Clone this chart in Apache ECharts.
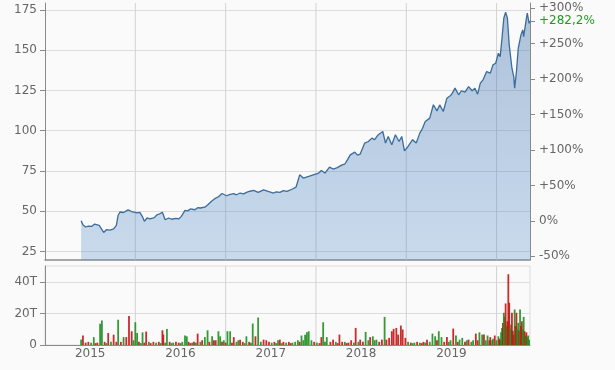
<!DOCTYPE html>
<html><head><meta charset="utf-8">
<script src="https://cdn.jsdelivr.net/npm/echarts@6/dist/echarts.min.js"></script>
<style>html,body{margin:0;padding:0;background:#fafafa}#c{width:615px;height:370px}</style>
</head><body><div id="c"></div>
<script>
const priceYears = [2015.40,2015.42,2015.45,2015.48,2015.52,2015.55,2015.57,2015.60,2015.62,2015.65,2015.68,2015.72,2015.76,2015.79,2015.81,2015.83,2015.85,2015.87,2015.89,2015.92,2015.94,2015.96,2015.98,
2016.02,2016.05,2016.08,2016.10,2016.13,2016.16,2016.18,2016.21,2016.24,2016.27,2016.30,2016.33,2016.37,2016.40,2016.42,2016.45,2016.48,2016.51,2016.55,2016.58,2016.61,2016.66,2016.69,2016.72,2016.77,2016.80,2016.82,2016.85,2016.88,2016.92,2016.96,
2017.01,2017.05,2017.09,2017.12,2017.16,2017.20,2017.23,2017.27,2017.31,2017.36,2017.42,2017.47,2017.53,2017.56,2017.60,2017.64,2017.68,2017.74,2017.78,2017.81,2017.82,2017.86,2017.92,2017.97,
2018.03,2018.06,2018.10,2018.15,2018.19,2018.23,2018.29,2018.32,2018.35,2018.38,2018.43,2018.46,2018.49,2018.54,2018.58,2018.62,2018.65,2018.69,2018.74,2018.77,2018.80,2018.84,2018.88,2018.92,2018.95,2018.98,
2019.02,2019.07,2019.11,2019.15,2019.18,2019.21,2019.26,2019.30,2019.34,2019.37,2019.41,2019.45,2019.49,2019.51,2019.54,2019.58,2019.61,2019.65,2019.69,2019.73,2019.76,2019.79,2019.82,2019.85,2019.89,2019.93,2019.96,2019.99,
2020.02,2020.04,2020.06,2020.08,2020.10,2020.12,2020.14,2020.17,2020.19,2020.20,2020.22,2020.24,2020.27,2020.29,2020.30,2020.33,2020.34,2020.36,2020.37];
const prices = [44.0,41.6,40.2,40.8,40.6,42.0,42.6,41.2,42.0,36.8,38.5,38.3,39.0,41.2,47.5,49.5,50.5,49.2,49.9,50.8,50.9,49.8,50.5,
48.9,49.3,46.5,43.7,45.8,45.2,46.4,46.0,47.8,48.4,49.3,44.7,45.8,45.0,44.3,45.6,45.2,46.8,50.5,50.2,51.4,50.9,52.2,52.0,52.5,53.8,55.0,56.5,57.8,59.0,61.0,
59.6,60.5,60.9,60.2,61.3,60.8,61.7,62.4,62.9,61.7,63.3,62.3,61.3,62.0,61.7,62.8,62.3,63.8,65.0,70.6,72.6,70.6,71.6,72.6,
73.7,75.3,73.7,77.4,76.2,76.9,78.8,79.3,82.0,85.0,86.7,84.8,85.5,92.3,93.3,95.4,94.4,97.5,99.5,92.3,96.4,91.3,97.5,93.3,96.4,87.5,
90.2,94.4,92.3,98.5,101.5,105.7,107.8,116.1,112.3,116.0,111.9,120.2,121.8,123.3,126.4,122.3,124.8,124.0,127.4,124.8,126.4,122.7,129.5,131.6,136.7,135.7,140.9,141.9,
148.1,146.0,157.4,169.8,173.6,169.8,153.3,138.8,133.6,126.4,136.7,151.2,159.5,162.6,158.4,169.8,173.0,166.7,168.15];

const volYears = [2015.40,2015.42,2015.45,2015.48,2015.51,2015.54,2015.56,2015.58,2015.61,2015.63,2015.66,2015.68,2015.70,2015.73,2015.76,2015.79,2015.81,2015.84,2015.87,2015.90,2015.93,2015.96,2015.98,
2016.00,2016.02,2016.04,2016.06,2016.08,2016.10,2016.12,2016.15,2016.17,2016.20,2016.23,2016.26,2016.28,2016.30,2016.31,2016.33,2016.35,2016.38,2016.40,2016.42,2016.45,2016.48,2016.50,2016.52,2016.55,2016.57,2016.59,2016.61,2016.63,2016.65,2016.67,2016.69,2016.72,2016.74,2016.77,2016.80,2016.82,2016.85,2016.87,2016.89,2016.92,2016.94,2016.96,2016.98,
2017.00,2017.02,2017.05,2017.07,2017.09,2017.12,2017.14,2017.16,2017.19,2017.21,2017.23,2017.26,2017.28,2017.30,2017.33,2017.36,2017.39,2017.42,2017.45,2017.48,2017.51,2017.54,2017.56,2017.58,2017.60,2017.62,2017.64,2017.67,2017.70,2017.72,2017.74,2017.77,2017.80,2017.82,2017.84,2017.86,2017.88,2017.90,2017.92,2017.95,2017.98,
2018.01,2018.04,2018.06,2018.08,2018.10,2018.12,2018.16,2018.19,2018.22,2018.24,2018.26,2018.29,2018.32,2018.34,2018.36,2018.39,2018.42,2018.44,2018.47,2018.49,2018.52,2018.55,2018.58,2018.60,2018.63,2018.65,2018.67,2018.70,2018.73,2018.76,2018.78,2018.81,2018.84,2018.86,2018.89,2018.91,2018.94,2018.96,2018.99,
2019.02,2019.05,2019.07,2019.09,2019.12,2019.15,2019.17,2019.19,2019.21,2019.23,2019.26,2019.29,2019.32,2019.34,2019.36,2019.39,2019.42,2019.45,2019.47,2019.49,2019.52,2019.55,2019.57,2019.59,2019.62,2019.65,2019.67,2019.69,2019.72,2019.74,2019.77,2019.79,2019.81,2019.84,2019.86,2019.88,2019.90,2019.92,2019.93,2019.95,2019.96,2019.98,2020.00,
2020.02,2020.03,2020.04,2020.05,2020.06,2020.07,2020.08,2020.09,2020.10,2020.11,2020.12,2020.13,2020.14,2020.15,2020.16,2020.17,2020.18,2020.19,2020.20,2020.21,2020.22,2020.23,2020.24,2020.25,2020.26,2020.27,2020.28,2020.29,2020.30,2020.31,2020.32,2020.33,2020.34,2020.35,2020.36];
const volumes = [3.4,6,1.5,2,1.5,5,1.2,1.5,13.4,15.5,2,1.2,7.6,2,6.5,2,16,2,5,5,18.3,8.7,3,
14.4,7.6,2,1.2,8,1.5,8.5,2,1.2,2,1.5,2,1.2,9.3,6.6,1.5,10.2,2,1.2,1.5,2,1.5,1.2,2,6,5.5,2,1.2,1.5,2,1.5,7.2,2,3,5,9.3,2,5.5,3,3,8.7,5.5,2,3,
1.5,8.7,8.7,1.5,5,2,3,3.4,2,1.2,5.5,2,1.5,13.6,5.5,17.4,2,3.4,3,2,1.5,2,1.2,3,3.4,1.2,2,1.5,2,1.2,1.5,2,3,2,6,3,6.5,8,8.7,3,2,
1.5,1.2,5,14.4,2,5,2,3.4,2,1.2,6.6,2,2,1.2,1.5,3,1.5,10.8,2,3.4,2,8.3,3,5,5.5,3,3.4,2,3.4,17.8,3.4,4.5,8.7,10.2,10.8,6.6,12.3,9.8,4.5,
2,1.5,1.2,1.5,2,1.5,1.2,2,1.5,3.4,2,7.2,5.5,3,8.7,5,2,5,2,3,10.4,6,2,3.4,4.5,2,3,3.4,2,3,7.2,3,8,6.6,6.6,3,6,3,5,3,4,6,3,
5.5,4,3,8,10.8,14,20.4,18,26.3,12,15,44.8,26.7,10,13,20.4,9,6.6,22.5,12,20.4,10,14,9,22.5,12,15,10,17.8,8.7,6,8,5,6,3.4];
const volUp = [1,0,0,0,1,1,0,0,1,1,0,1,0,1,0,0,1,0,1,0,0,0,1,
1,1,0,1,1,0,0,1,0,0,1,0,1,0,0,1,1,0,1,1,0,0,1,1,1,1,0,0,1,0,1,0,1,0,1,1,0,1,0,0,1,1,0,1,
0,1,1,0,0,1,1,0,0,1,1,0,1,1,0,1,1,0,0,0,1,0,1,1,0,1,0,1,0,0,1,1,1,0,1,1,1,1,1,1,0,
1,0,0,1,1,1,0,0,1,0,0,0,1,0,0,0,1,0,1,0,0,1,1,0,1,1,1,0,0,1,0,0,0,0,0,0,0,0,0,
1,0,1,1,0,1,0,0,1,0,1,1,1,0,1,1,0,0,1,1,0,1,0,1,1,0,1,0,1,1,0,0,1,1,0,1,1,0,0,1,1,0,1,
1,0,0,1,1,0,1,1,0,1,0,0,0,1,1,0,0,0,1,0,0,1,1,0,1,0,0,1,1,0,1,0,1,1,1];

const priceTicks = [25,50,75,100,125,150,175];
const pctTicks = [-50,0,50,100,150,200,250,300];
const volTicks = [0,20,40];
const yearLines = [2016,2017,2018,2019,2020];
const yearLabels = [2015.5,2016.5,2017.5,2018.5,2019.5];

const priceMin = 19.7, priceMax = 179.3;
const volMax = 50;
const basePrice = prices[0];
const lastPrice = prices[prices.length-1];
const lastPct = (lastPrice/basePrice - 1)*100;
const pctMin = (priceMin/basePrice - 1)*100;
const pctMax = (priceMax/basePrice - 1)*100;

const FONT = 'DejaVu Sans';
const TXT = '#666';
const AX = '#8a8a8a';
const GRID = '#dcdcdc';
const VLINE = '#d2d2d2';
const UP = '#1f8f1f', DOWN = '#c41414';
const xMin = 2015, xMax = priceYears[priceYears.length-1];

const chart = echarts.init(document.getElementById('c'), null, {renderer:'canvas'});
function xAx(extra){
  return Object.assign({
    type:'value', min:xMin, max:xMax,
    splitLine:{show:false},
    axisTick:{show:false}
  }, extra);
}
chart.setOption({
  animation:false,
  backgroundColor:'#fafafa',
  textStyle:{fontFamily:FONT},
  grid:[
    {left:45, right:85, top:3, height:257, outerBoundsMode:'none', containLabel:false},
    {left:45, right:85, top:266, height:79, outerBoundsMode:'none', containLabel:false, show:true, borderColor:GRID, borderWidth:1, backgroundColor:'transparent'}
  ],
  xAxis:[
    xAx({gridIndex:0, axisLine:{show:true, onZero:false, lineStyle:{color:AX, width:1.5}}, axisLabel:{show:false}}),
    xAx({gridIndex:1, axisLine:{show:true, onZero:false, lineStyle:{color:AX, width:1}},
      axisLabel:{show:true, customValues:yearLabels, formatter:v=>String(Math.floor(v)), color:TXT, fontSize:12, fontFamily:FONT, margin:3}}),
    xAx({gridIndex:0, show:false}),
    xAx({gridIndex:1, show:false})
  ],
  yAxis:[
    {type:'value', gridIndex:0, min:priceMin, max:priceMax, position:'left',
     axisLine:{show:true, lineStyle:{color:AX}}, axisTick:{show:true, length:5, lineStyle:{color:AX}, customValues:priceTicks},
     axisLabel:{customValues:priceTicks, color:TXT, fontSize:12, fontFamily:FONT, margin:8},
     splitLine:{show:true, lineStyle:{color:GRID}}},
    {type:'value', gridIndex:0, min:pctMin, max:pctMax, position:'right',
     axisLine:{show:true, lineStyle:{color:AX}}, axisTick:{show:true, length:5, lineStyle:{color:AX}, customValues:pctTicks.concat([lastPct])},
     axisLabel:{customValues:pctTicks.concat([lastPct]), color:TXT, fontSize:12, fontFamily:FONT, margin:9,
       formatter:function(v){
         if (Math.abs(v-lastPct)<1e-6) return '{g|+' + v.toFixed(1).replace('.',',') + '%}';
         return (v>0?'+':'') + Math.round(v) + '%';
       },
       rich:{g:{color:'#229922', fontSize:12, fontFamily:FONT}}},
     splitLine:{show:false}},
    {type:'value', gridIndex:1, min:0, max:volMax, position:'left',
     axisLine:{show:true, lineStyle:{color:AX}}, axisTick:{show:true, length:5, lineStyle:{color:AX}, customValues:volTicks},
     axisLabel:{customValues:volTicks, color:TXT, fontSize:12, fontFamily:FONT, margin:8, formatter:v=> v===0?'0':(v+'T')},
     splitLine:{show:true, lineStyle:{color:GRID}}}
  ],
  series:[
    // year-boundary grid lines as 1px bars on hidden twin x axes
    {type:'bar', xAxisIndex:2, yAxisIndex:0, barWidth:1, silent:true, z:1,
     itemStyle:{color:VLINE}, data:yearLines.map(y=>[y, priceMax])},
    {type:'bar', xAxisIndex:3, yAxisIndex:2, barWidth:1, silent:true, z:1,
     itemStyle:{color:VLINE}, data:yearLines.map(y=>[y, volMax])},
    {type:'line', xAxisIndex:0, yAxisIndex:0, showSymbol:false, symbol:'none', z:2,
     data:priceYears.map((y,i)=>[y,prices[i]]),
     lineStyle:{color:'#3a6d9d', width:1.3},
     areaStyle:{origin:'start', color:new echarts.graphic.LinearGradient(0,0,0,1,[
       {offset:0,color:'rgba(60,110,170,0.58)'},{offset:1,color:'rgba(75,135,200,0.40)'}])}},
    {type:'bar', xAxisIndex:1, yAxisIndex:2, barWidth:1.8, z:2,
     data:volYears.map((y,i)=>({value:[y,volumes[i]], itemStyle:{color: volUp[i]?UP:DOWN, opacity:0.9}}))}
  ]
});
</script></body></html>
